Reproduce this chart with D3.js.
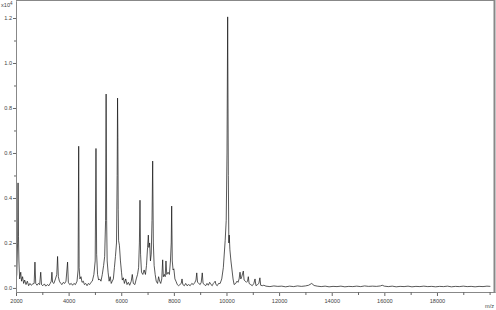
<!DOCTYPE html>
<html>
<head>
<meta charset="utf-8">
<script src="https://cdn.jsdelivr.net/npm/d3@7"></script>
<style>
  body { margin: 0; background: #fff; }
  svg { display: block; }
  text { font-family: "Liberation Sans", Arial, sans-serif; fill: #444; }
</style>
</head>
<body>
<div id="chart"></div>
<script>

// spectrum: [m/z, intensity in units of 10^4]
var spectrum = [
  [2000,0.03],[2030,0.06],[2060,0.2],[2078,0.467],[2095,0.23],[2110,0.12],[2140,0.04],[2180,0.07],
  [2210,0.03],[2250,0.05],[2290,0.02],[2330,0.035],[2380,0.015],[2430,0.03],[2480,0.01],[2530,0.02],
  [2580,0.012],[2640,0.018],[2690,0.02],[2720,0.115],[2750,0.02],[2800,0.012],[2850,0.02],[2900,0.015],
  [2940,0.07],[2970,0.015],[3020,0.01],[3080,0.018],[3130,0.008],[3190,0.015],[3250,0.01],[3300,0.02],
  [3340,0.03],[3365,0.07],[3390,0.025],[3440,0.02],[3500,0.04],[3550,0.06],[3580,0.14],[3610,0.05],
  [3650,0.03],[3700,0.02],[3750,0.015],[3800,0.025],[3850,0.02],[3900,0.03],[3960,0.115],[3990,0.025],
  [4040,0.015],[4100,0.02],[4150,0.012],[4200,0.02],[4260,0.015],[4320,0.03],[4360,0.08],[4383,0.63],
  [4400,0.09],[4430,0.04],[4470,0.05],[4510,0.025],[4560,0.03],[4600,0.015],[4650,0.02],[4700,0.01],
  [4750,0.02],[4800,0.015],[4850,0.025],[4900,0.03],[4960,0.06],[5010,0.12],[5040,0.62],[5065,0.15],
  [5100,0.06],[5140,0.035],[5180,0.04],[5230,0.03],[5280,0.06],[5330,0.1],[5370,0.14],[5405,0.3],
  [5425,0.862],[5445,0.3],[5465,0.12],[5500,0.07],[5540,0.03],[5580,0.05],[5620,0.02],[5660,0.03],
  [5700,0.04],[5740,0.09],[5780,0.14],[5820,0.2],[5845,0.5],[5860,0.844],[5872,0.67],[5885,0.35],
  [5900,0.21],[5930,0.19],[5970,0.12],[6010,0.07],[6040,0.035],[6080,0.045],[6120,0.02],[6170,0.04],
  [6220,0.015],[6270,0.025],[6320,0.012],[6380,0.03],[6420,0.06],[6460,0.02],[6520,0.015],[6570,0.04],
  [6620,0.06],[6660,0.09],[6690,0.2],[6713,0.39],[6735,0.15],[6770,0.07],[6820,0.06],[6870,0.08],
  [6920,0.06],[6960,0.1],[7000,0.18],[7030,0.235],[7050,0.18],[7080,0.2],[7110,0.12],[7140,0.15],
  [7170,0.3],[7195,0.564],[7220,0.2],[7250,0.1],[7290,0.06],[7330,0.03],[7380,0.02],[7420,0.05],
  [7460,0.03],[7500,0.02],[7540,0.04],[7575,0.125],[7600,0.05],[7640,0.06],[7670,0.05],[7700,0.12],
  [7730,0.06],[7780,0.07],[7830,0.06],[7870,0.12],[7900,0.2],[7917,0.364],[7940,0.12],[7970,0.08],
  [8000,0.085],[8040,0.04],[8080,0.03],[8130,0.015],[8180,0.01],[8230,0.015],[8280,0.02],[8310,0.04],
  [8340,0.015],[8400,0.01],[8450,0.02],[8500,0.01],[8560,0.015],[8620,0.01],[8680,0.02],[8740,0.015],
  [8800,0.025],[8840,0.035],[8870,0.067],[8900,0.025],[8950,0.02],[9000,0.015],[9040,0.025],[9080,0.067],
  [9110,0.02],[9160,0.015],[9210,0.01],[9260,0.02],[9310,0.012],[9360,0.025],[9410,0.015],[9460,0.01],
  [9500,0.02],[9540,0.025],[9570,0.03],[9600,0.015],[9650,0.01],[9700,0.02],[9760,0.02],[9820,0.04],
  [9880,0.09],[9950,0.21],[9990,0.3],[10020,0.6],[10045,1.205],[10070,0.5],[10090,0.2],[10105,0.235],
  [10130,0.17],[10170,0.12],[10210,0.08],[10250,0.04],[10290,0.015],[10350,0.02],[10400,0.03],[10440,0.025],
  [10480,0.04],[10515,0.07],[10545,0.04],[10580,0.05],[10640,0.075],[10670,0.035],[10720,0.03],[10760,0.025],
  [10800,0.03],[10830,0.05],[10860,0.02],[10920,0.015],[10980,0.01],[11040,0.02],[11085,0.04],[11120,0.01],
  [11180,0.015],[11230,0.02],[11270,0.045],[11300,0.012],[11360,0.01],[11420,0.012],[11500,0.008],[11650,0.006],
  [11800,0.009],[11950,0.007],[12100,0.008],[12250,0.005],[12400,0.008],[12550,0.006],[12700,0.009],[12850,0.007],
  [13000,0.009],[13120,0.012],[13240,0.02],[13330,0.011],[13450,0.008],[13600,0.006],[13750,0.008],[13900,0.005],
  [14050,0.007],[14200,0.006],[14350,0.008],[14500,0.005],[14650,0.007],[14800,0.006],[14950,0.008],[15100,0.006],
  [15250,0.009],[15400,0.007],[15550,0.008],[15700,0.007],[15850,0.009],[15920,0.012],[16000,0.008],[16150,0.006],
  [16300,0.008],[16450,0.005],[16600,0.007],[16750,0.006],[16900,0.008],[17050,0.005],[17200,0.007],[17350,0.006],
  [17500,0.008],[17650,0.006],[17800,0.007],[17950,0.005],[18100,0.007],[18250,0.006],[18400,0.008],[18550,0.005],
  [18700,0.007],[18850,0.006],[19000,0.008],[19150,0.006],[19300,0.007],[19450,0.005],[19600,0.007],[19750,0.006],
  [19900,0.008],[20030,0.007]
];

// axis ticks
var xMajor = [2000,4000,6000,8000,10000,12000,14000,16000,18000];
var xMinor = [3000,5000,7000,9000,11000,13000,15000,17000,19000,20000];
var yMajor = [0.0,0.2,0.4,0.6,0.8,1.0,1.2];
var yMinor = [0.1,0.3,0.5,0.7,0.9,1.1];

// size of svg and plot box
var w_svg = 496;
var h_svg = 310;
var boxL = 16, boxR = 495, boxT = 1, boxB = 292;

var svg = d3.select("#chart")
  .append("svg")
    .attr("width", w_svg)
    .attr("height", h_svg);

// scales
var xScale = d3.scaleLinear().domain([2000, 20206]).range([boxL, boxR]);
var yScale = d3.scaleLinear().domain([-0.018, 1.2756]).range([boxB, boxT]);

// clip for the trace
svg.append("clipPath").attr("id", "box")
  .append("rect")
    .attr("x", boxL).attr("y", boxT)
    .attr("width", boxR - boxL).attr("height", boxB - boxT);

// frame top and right
svg.append("line")
  .attr("x1", boxL).attr("x2", boxR).attr("y1", 0.5).attr("y2", 0.5)
  .attr("stroke", "#888").attr("stroke-width", 1);
svg.append("line")
  .attr("x1", boxR - 0.5).attr("x2", boxR - 0.5).attr("y1", 0).attr("y2", boxB)
  .attr("stroke", "#888").attr("stroke-width", 2);

// the spectrum
var line = d3.line()
  .x(function(d) { return xScale(d[0]); })
  .y(function(d) { return yScale(d[1]); });

svg.append("path")
  .datum(spectrum)
  .attr("clip-path", "url(#box)")
  .attr("fill", "none")
  .attr("stroke", "#111")
  .attr("stroke-width", 0.7)
  .attr("stroke-linejoin", "round")
  .attr("d", line);

// x-axis
var gx = svg.append("g").attr("transform", "translate(0," + boxB + ")");
gx.call(d3.axisBottom(xScale).tickValues(xMajor).tickSize(4).tickSizeOuter(0).tickPadding(3)
  .tickFormat(d3.format("d")));
var gx2 = svg.append("g").attr("transform", "translate(0," + boxB + ")");
gx2.call(d3.axisBottom(xScale).tickValues(xMinor).tickSize(3).tickSizeOuter(0).tickFormat(""));

// y-axis
var gy = svg.append("g").attr("transform", "translate(" + boxL + ",0)");
gy.call(d3.axisLeft(yScale).tickValues(yMajor).tickSize(3).tickSizeOuter(0).tickPadding(1)
  .tickFormat(d3.format(".1f")));
var gy2 = svg.append("g").attr("transform", "translate(" + boxL + ",0)");
gy2.call(d3.axisLeft(yScale).tickValues(yMinor).tickSize(2).tickSizeOuter(0).tickFormat(""));

// style the axes
svg.selectAll(".domain").attr("stroke", "#888");
svg.selectAll(".tick line").attr("stroke", "#666");
svg.selectAll(".tick text")
  .style("font-size", "5.6px")
  .style("font-family", "'Liberation Sans', Arial, sans-serif")
  .attr("fill", "#444");

// exponent and unit labels
var expo = svg.append("text").attr("x", 1).attr("y", 7).style("font-size", "5.6px");
expo.append("tspan").text("x10");
expo.append("tspan").attr("dy", -2).style("font-size", "4.5px").text("4");

svg.append("text")
  .attr("x", 485).attr("y", 308)
  .style("font-size", "5.6px")
  .text("m/z");

</script>
</body>
</html>
